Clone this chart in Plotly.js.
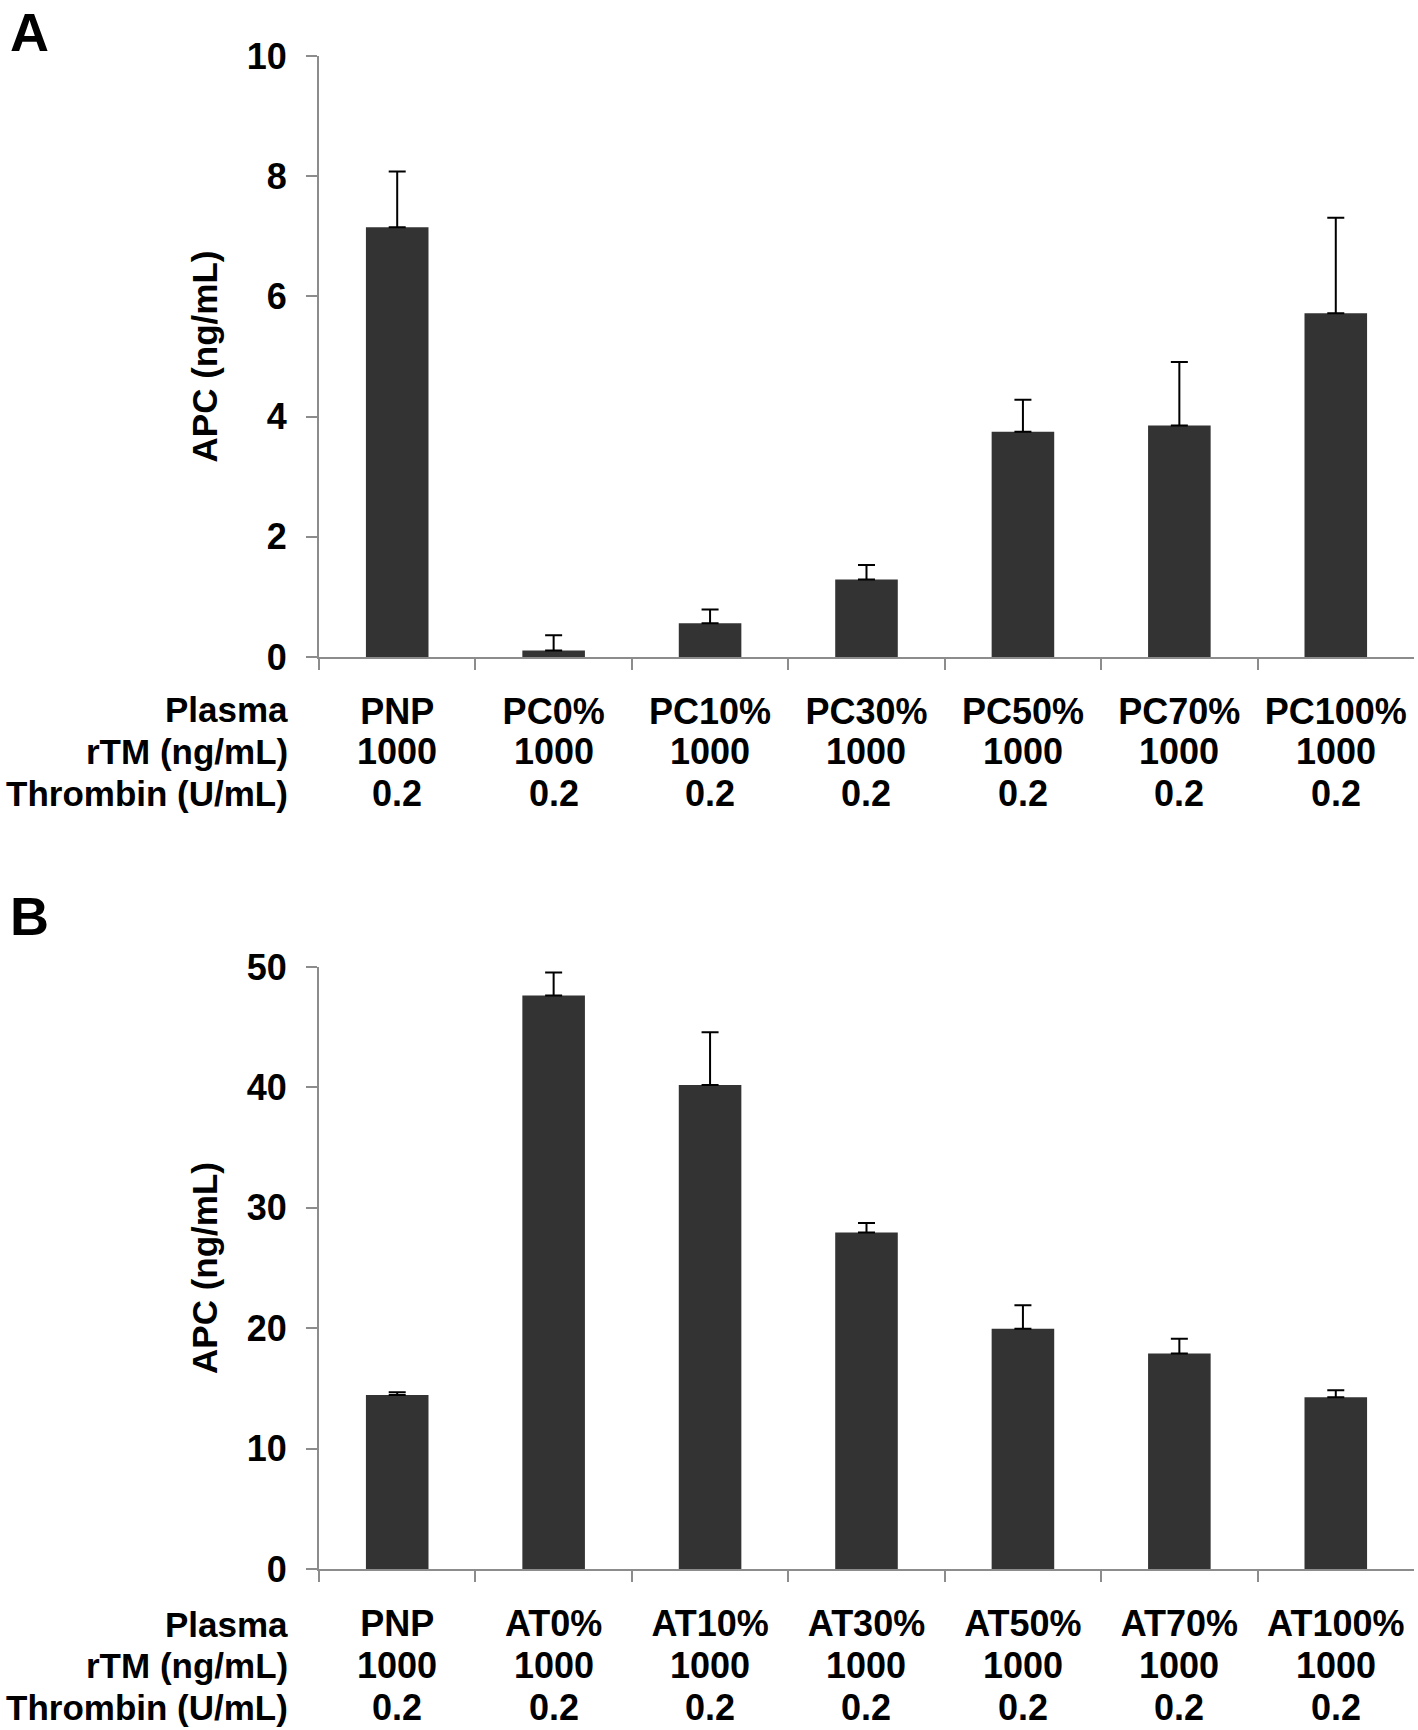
<!DOCTYPE html>
<html>
<head>
<meta charset="utf-8">
<script src="https://cdn.plot.ly/plotly-3.0.1.min.js"></script>
<style>html,body{margin:0;padding:0;background:#fff;}#chart{width:1418px;height:1730px;}</style>
</head>
<body>
<div id="chart"></div>
<script>
// ---- data ----
const plasmaA = ['PNP', 'PC0%', 'PC10%', 'PC30%', 'PC50%', 'PC70%', 'PC100%'];
const apcA    = [7.15, 0.11, 0.56, 1.29, 3.75, 3.85, 5.72];
const errA    = [0.93, 0.25, 0.23, 0.24, 0.53, 1.06, 1.59];

const plasmaB = ['PNP', 'AT0%', 'AT10%', 'AT30%', 'AT50%', 'AT70%', 'AT100%'];
const apcB    = [14.46, 47.63, 40.19, 27.94, 19.96, 17.90, 14.27];
const errB    = [0.23, 1.91, 4.39, 0.80, 1.95, 1.22, 0.57];

const rtm      = ['1000', '1000', '1000', '1000', '1000', '1000', '1000'];
const thrombin = ['0.2', '0.2', '0.2', '0.2', '0.2', '0.2', '0.2'];
const rowHeaders = ['Plasma', 'rTM (ng/mL)', 'Thrombin (U/mL)'];
const panelLabels = ['A', 'B'];
const yTitle = 'APC (ng/mL)';

// ---- styling ----
const FAM = 'Liberation Sans, Arial, Helvetica, sans-serif';
const AX = '#8c8c8c';
const W = 1418, H = 1730;
const tickFont = {family: FAM, size: 36, color: '#000', weight: 'bold'};
const headFont = {family: FAM, size: 35, color: '#000', weight: 'bold'};
const rowsA = [710, 751, 793];     // row centres (px from top), panel A
const rowsB = [1624, 1665, 1707];  // row centres (px from top), panel B

function zeros(n) { return new Array(n).fill(0); }
function py(px) { return 1 - px / H; }

function barTrace(x, y, e, xa, ya) {
  return {
    type: 'bar', x: x, y: y, xaxis: xa, yaxis: ya,
    marker: {color: '#333333', line: {width: 0}},
    error_y: {type: 'data', symmetric: false, array: e, arrayminus: zeros(e.length),
              color: '#000', thickness: 2, width: 8.5},
    hoverinfo: 'x+y'
  };
}

const data = [
  barTrace(plasmaA, apcA, errA, 'x', 'y'),
  barTrace(plasmaB, apcB, errB, 'x2', 'y2')
];

function xAxis(names, anchor, standoff) {
  return {
    domain: [0.22496, 0.99718], anchor: anchor, type: 'category',
    range: [-0.5, names.length - 0.5],
    showline: true, linecolor: AX, linewidth: 2,
    ticks: 'outside', tickson: 'boundaries', ticklen: 11, tickcolor: AX, tickwidth: 2,
    showgrid: false, zeroline: false,
    tickvals: names, ticktext: names, tickangle: 0,
    tickfont: tickFont, ticklabelstandoff: standoff, automargin: false
  };
}
function yAxis(domain, range, dtick, anchor) {
  return {
    domain: domain, anchor: anchor, range: range, dtick: dtick, tick0: 0,
    showline: true, linecolor: AX, linewidth: 2,
    ticks: 'outside', ticklen: 11, tickcolor: AX, tickwidth: 2,
    showgrid: false, zeroline: false, tickfont: tickFont, ticklabelstandoff: 12,
    title: {text: yTitle, font: {family: FAM, size: 35, color: '#000', weight: 'bold'}, standoff: 18},
    automargin: false
  };
}

// table rows under each panel (rTM and Thrombin rows placed at the category positions)
const annotations = [];
function addRows(names, xref, rows) {
  rowHeaders.forEach((h, r) => {
    annotations.push({text: h, xref: 'paper', yref: 'paper', x: 290 / W, y: py(rows[r]),
      xanchor: 'right', yanchor: 'middle', align: 'right', showarrow: false, font: headFont});
  });
  names.forEach((n, i) => {
    annotations.push({text: rtm[i], xref: xref, yref: 'paper', x: n, y: py(rows[1]),
      xanchor: 'center', yanchor: 'middle', showarrow: false, font: tickFont});
    annotations.push({text: thrombin[i], xref: xref, yref: 'paper', x: n, y: py(rows[2]),
      xanchor: 'center', yanchor: 'middle', showarrow: false, font: tickFont});
  });
}
addRows(plasmaA, 'x', rowsA);
addRows(plasmaB, 'x2', rowsB);

const letterFont = {family: FAM, size: 54, color: '#000', weight: 'bold'};
annotations.push({text: panelLabels[0], xref: 'paper', yref: 'paper', x: 8 / W, y: py(0),
  xanchor: 'left', yanchor: 'top', showarrow: false, font: letterFont});
annotations.push({text: panelLabels[1], xref: 'paper', yref: 'paper', x: 8 / W, y: py(884),
  xanchor: 'left', yanchor: 'top', showarrow: false, font: letterFont});

const layout = {
  width: W, height: H,
  margin: {l: 0, r: 0, t: 0, b: 0},
  paper_bgcolor: '#fff', plot_bgcolor: '#fff',
  showlegend: false, bargap: 0.6,
  font: {family: FAM, color: '#000'},
  xaxis: xAxis(plasmaA, 'y', 22),
  yaxis: yAxis([0.62023, 0.96763], [0, 10], 2, 'x'),
  xaxis2: xAxis(plasmaB, 'y2', 22),
  yaxis2: yAxis([0.09306, 0.44104], [0, 50], 10, 'x2'),
  annotations: annotations
};

Plotly.newPlot('chart', data, layout, {displayModeBar: false, staticPlot: true});
</script>
</body>
</html>
